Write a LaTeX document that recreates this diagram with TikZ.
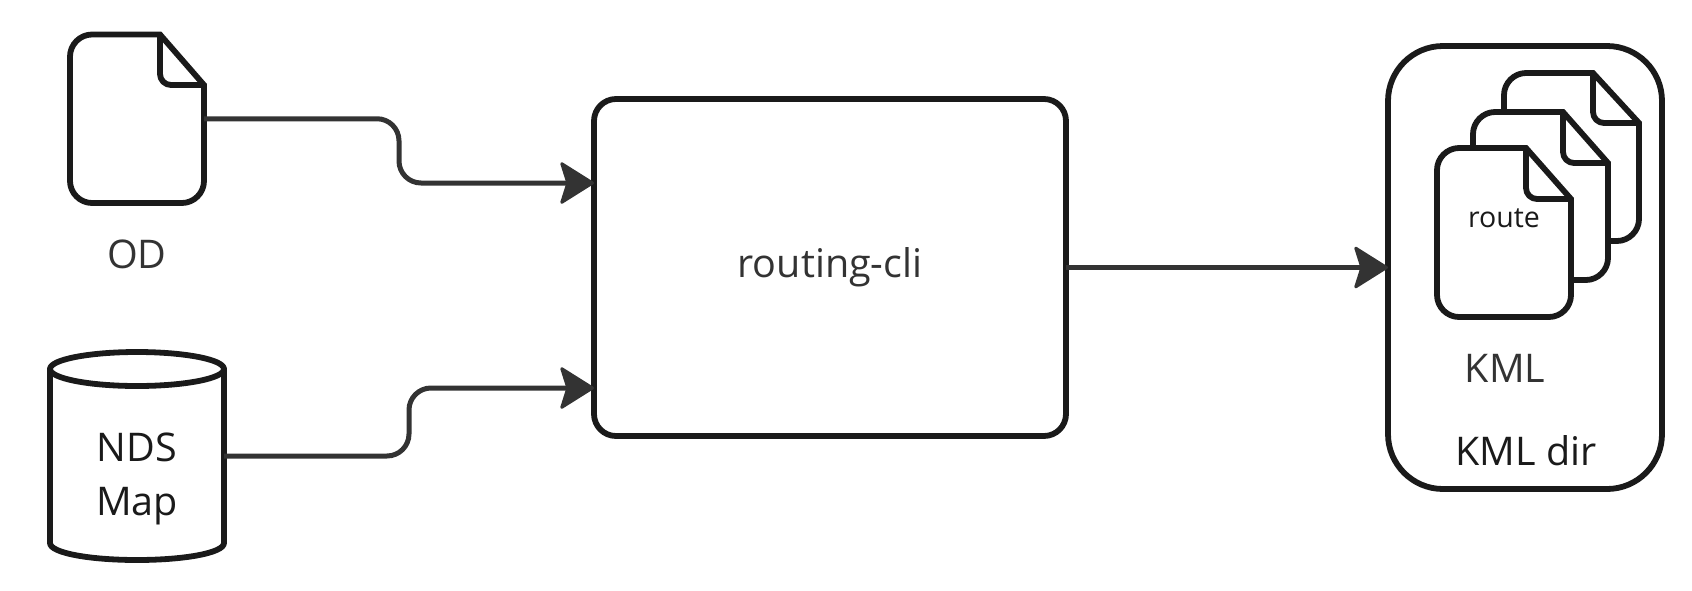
\documentclass[tikz,border=0pt]{standalone}
\usepackage{fontspec}
\setmainfont{Open Sans}
\usetikzlibrary{arrows.meta,shapes.geometric}
\definecolor{shapeline}{HTML}{1A1A1A}
\definecolor{linkline}{HTML}{333333}
\tikzset{
  boxshape/.style={draw=shapeline,line width=5.8pt,fill=white,line join=round,outer sep=0pt,inner sep=0pt},
  anchorbox/.style={outer sep=0pt,inner sep=0pt},
  link/.style={draw=linkline,line width=5pt,rounded corners=22pt,
    -{Stealth[length=36pt,width=45pt,inset=7pt,line width=3pt,round,fill=linkline]}},
  lbl/.style={text=linkline,inner sep=0pt,font=\fontsize{39.5}{44}\selectfont},
  lbldark/.style={text=shapeline,inner sep=0pt,font=\fontsize{39.5}{44}\selectfont},
}
\newcommand{\docshape}[6]{% left top right bottom foldx foldy
  \path[boxshape,line join=miter,miter limit=3] (#5,#2) -- (#1+22,#2) .. controls (#1+10,#2) and (#1,#2+10) .. (#1,#2+22)
    -- (#1,#4-22) .. controls (#1,#4-10) and (#1+10,#4) .. (#1+22,#4)
    -- (#3-22,#4) .. controls (#3-10,#4) and (#3,#4-10) .. (#3,#4-22)
    -- (#3,#6) -- cycle;
  \draw[boxshape,fill=none,rounded corners=11pt] (#5,#2) -- (#5,#6) -- (#3,#6);
}
\begin{document}
\begin{tikzpicture}[x=1pt,y=-1pt]
\useasboundingbox (0,0) rectangle (1692,590);
% KML dir container
\node[boxshape,rounded corners=55pt,minimum width=274pt,minimum height=443pt] (kmldir) at (1525,267.5) {};
% documents
\docshape{1504}{73}{1639}{241}{1593}{123}
\docshape{1473}{112}{1608}{280}{1563}{163}
\docshape{1437}{148}{1571}{317}{1526}{199}
\docshape{70}{34.5}{204}{203}{160}{85}
\node[anchorbox,minimum width=134pt,minimum height=168.5pt] (od) at (137,118.75) {};
% cylinder
\path[boxshape] (50,369) -- (50,543) .. controls (50,553) and (90,560) .. (137,560) .. controls (184,560) and (224,553) .. (224,543) -- (224,369) -- cycle;
\draw[boxshape] (137,369) ellipse [x radius=87pt,y radius=17pt];
\node[anchorbox,minimum width=174pt,minimum height=209pt] (nds) at (137,456) {};
% main box
\node[boxshape,rounded corners=22pt,minimum width=472pt,minimum height=337pt] (main) at (830,267.5) {};
\coordinate (in1) at (594,183);
\coordinate (in2) at (594,388);
\coordinate (bend1) at (399,183);
\coordinate (bend2) at (409,388);
% connectors
\draw[link] (od.east) -| (bend1) -- (in1);
\draw[link] (nds.east) -| (bend2) -- (in2);
\draw[link] (main.east) -- (kmldir.west);
% labels
\node[lbl] (mainlabel) at (830,267) {routing-cli};
\node[lbl] (odlabel) at (137,254) {OD};
\node[lbldark] (ndslabel) at (137,447) {NDS};
\node[lbldark] (maplabel) at (137,506) {Map};
\node[lbldark,font=\fontsize{28.5}{30}\selectfont] (routelabel) at (1504,218) {route};
\node[lbl] (kmllabel) at (1505,368) {KML};
\node[lbldark] (dirlabel) at (1526,451) {KML dir};
\end{tikzpicture}
\end{document}
